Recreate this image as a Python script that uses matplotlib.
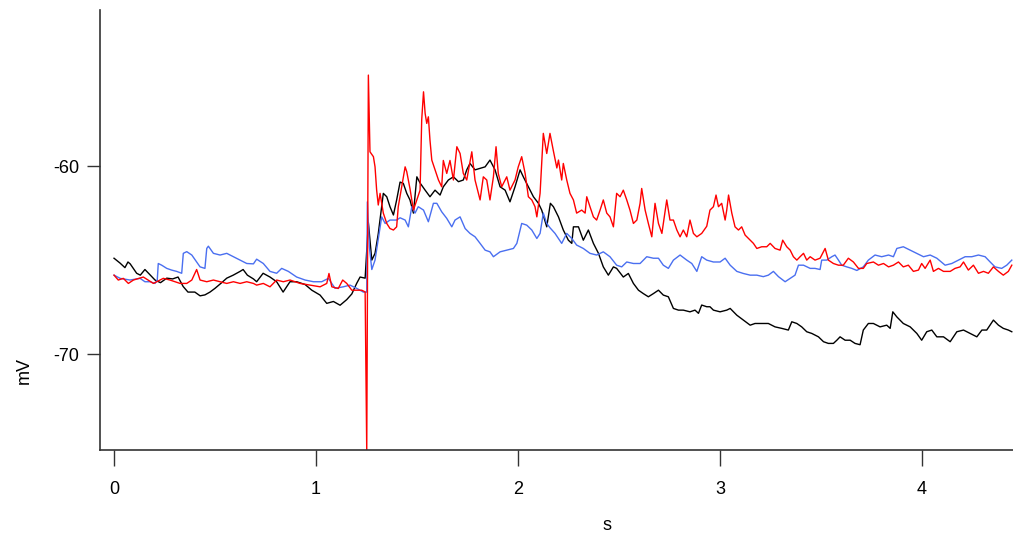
import matplotlib
matplotlib.use("Agg")
import matplotlib.pyplot as plt

plt.rcParams['font.family'] = ['Liberation Sans', 'DejaVu Sans']

# Black trace (s, mV)
black_t = [0.000, 0.030, 0.054, 0.069, 0.080, 0.112, 0.130, 0.153, 0.180, 0.203,
           0.230, 0.261, 0.290, 0.317, 0.342, 0.366, 0.400, 0.426, 0.450, 0.475,
           0.500, 0.533, 0.558, 0.590, 0.624, 0.639, 0.660, 0.690, 0.706, 0.738,
           0.772, 0.805, 0.837, 0.871, 0.904, 0.946, 0.979, 1.020, 1.053, 1.086,
           1.119, 1.152, 1.177, 1.201, 1.218, 1.243, 1.251, 1.259, 1.276, 1.292,
           1.308, 1.325, 1.333, 1.350, 1.366, 1.383, 1.399, 1.416, 1.432, 1.449,
           1.465, 1.482, 1.499, 1.515, 1.540, 1.564, 1.589, 1.614, 1.630, 1.655,
           1.680, 1.705, 1.729, 1.746, 1.762, 1.787, 1.812, 1.837, 1.861, 1.886,
           1.911, 1.936, 1.960, 1.985, 2.010, 2.026, 2.051, 2.076, 2.101, 2.117,
           2.142, 2.160, 2.175, 2.200, 2.224, 2.249, 2.266, 2.274, 2.299, 2.323,
           2.348, 2.373, 2.398, 2.422, 2.447, 2.472, 2.488, 2.521, 2.546, 2.571,
           2.596, 2.620, 2.645, 2.670, 2.695, 2.719, 2.744, 2.769, 2.794, 2.818,
           2.851, 2.876, 2.893, 2.909, 2.934, 2.950, 2.967, 3.000, 3.033, 3.050,
           3.083, 3.115, 3.149, 3.173, 3.206, 3.239, 3.272, 3.305, 3.338, 3.355,
           3.380, 3.404, 3.429, 3.454, 3.487, 3.512, 3.536, 3.561, 3.578, 3.594,
           3.619, 3.644, 3.668, 3.693, 3.709, 3.734, 3.759, 3.792, 3.825, 3.842,
           3.855, 3.875, 3.907, 3.941, 3.974, 3.998, 4.023, 4.048, 4.073, 4.106,
           4.139, 4.172, 4.205, 4.238, 4.271, 4.296, 4.320, 4.353, 4.378, 4.402,
           4.427, 4.444]
black_mv = [-64.90, -65.16, -65.40, -65.10, -65.20, -65.70, -65.80, -65.50, -65.80, -66.06,
            -66.20, -65.96, -66.00, -65.90, -66.40, -66.70, -66.70, -66.90, -66.85, -66.70,
            -66.50, -66.20, -65.96, -65.80, -65.60, -65.50, -65.80, -66.00, -66.15, -65.70,
            -65.90, -66.15, -66.70, -66.15, -66.15, -66.30, -66.60, -66.86, -67.30, -67.20,
            -67.40, -67.10, -66.80, -66.24, -65.90, -65.96, -64.50, -63.00, -65.00, -64.64,
            -63.60, -62.16, -61.45, -61.63, -62.16, -62.60, -61.80, -60.85, -60.92, -61.45,
            -61.80, -62.50, -60.57, -60.90, -61.28, -61.63, -61.28, -61.54, -61.10, -60.74,
            -60.57, -60.83, -60.74, -60.20, -59.86, -60.20, -60.12, -60.04, -59.68, -60.20,
            -61.10, -61.28, -61.90, -61.10, -60.20, -60.57, -61.10, -61.63, -61.98, -62.34,
            -63.23, -61.98, -62.16, -62.70, -63.40, -63.94, -64.11, -63.23, -63.23, -63.94,
            -63.40, -64.11, -64.64, -65.36, -65.80, -65.36, -65.44, -65.90, -65.71, -66.24,
            -66.60, -66.78, -66.95, -66.78, -66.60, -66.86, -66.95, -67.57, -67.66, -67.66,
            -67.75, -67.66, -67.83, -67.39, -67.48, -67.48, -67.66, -67.75, -67.66, -67.57,
            -67.93, -68.19, -68.46, -68.37, -68.37, -68.37, -68.55, -68.63, -68.72, -68.28,
            -68.37, -68.55, -68.81, -68.90, -69.08, -69.34, -69.43, -69.43, -69.26, -69.08,
            -69.26, -69.26, -69.43, -69.50, -68.72, -68.37, -68.37, -68.55, -68.46, -68.63,
            -67.75, -68.02, -68.37, -68.55, -68.90, -69.26, -68.81, -68.72, -69.08, -69.08,
            -69.34, -68.81, -68.72, -68.90, -69.08, -68.72, -68.72, -68.19, -68.46, -68.63,
            -68.72, -68.81]

# Blue trace
blue_t = [0.000, 0.030, 0.079, 0.129, 0.153, 0.178, 0.203, 0.214, 0.219, 0.236,
          0.261, 0.285, 0.310, 0.335, 0.343, 0.360, 0.385, 0.409, 0.426, 0.450,
          0.459, 0.467, 0.492, 0.525, 0.558, 0.591, 0.624, 0.657, 0.690, 0.706,
          0.739, 0.772, 0.805, 0.830, 0.863, 0.904, 0.946, 0.987, 1.028, 1.061,
          1.094, 1.135, 1.168, 1.201, 1.234, 1.251, 1.254, 1.264, 1.276, 1.292,
          1.308, 1.325, 1.342, 1.366, 1.399, 1.416, 1.441, 1.457, 1.474, 1.490,
          1.506, 1.532, 1.556, 1.581, 1.598, 1.622, 1.647, 1.672, 1.688, 1.713,
          1.738, 1.762, 1.787, 1.812, 1.837, 1.861, 1.878, 1.911, 1.944, 1.977,
          1.994, 2.018, 2.043, 2.068, 2.093, 2.109, 2.125, 2.142, 2.158, 2.183,
          2.216, 2.241, 2.266, 2.290, 2.323, 2.356, 2.389, 2.422, 2.455, 2.488,
          2.513, 2.538, 2.571, 2.604, 2.637, 2.670, 2.695, 2.719, 2.744, 2.769,
          2.802, 2.835, 2.860, 2.885, 2.909, 2.934, 2.967, 3.000, 3.025, 3.050,
          3.083, 3.115, 3.149, 3.182, 3.214, 3.239, 3.264, 3.289, 3.322, 3.347,
          3.371, 3.388, 3.413, 3.446, 3.470, 3.495, 3.503, 3.528, 3.553, 3.569,
          3.586, 3.602, 3.627, 3.652, 3.677, 3.709, 3.734, 3.767, 3.800, 3.834,
          3.858, 3.875, 3.907, 3.941, 3.974, 4.007, 4.040, 4.073, 4.114, 4.147,
          4.180, 4.213, 4.246, 4.279, 4.312, 4.337, 4.361, 4.394, 4.419, 4.444]
blue_mv = [-65.80, -65.97, -66.06, -65.97, -66.15, -66.15, -66.24, -66.06, -65.18, -65.27,
           -65.44, -65.53, -65.60, -65.70, -64.64, -64.55, -64.73, -65.10, -65.36, -65.44,
           -64.38, -64.26, -64.64, -64.73, -64.64, -64.82, -65.00, -65.18, -65.20, -64.95,
           -65.18, -65.60, -65.70, -65.44, -65.60, -65.90, -66.06, -66.15, -66.15, -65.97,
           -66.50, -66.42, -66.33, -66.50, -66.70, -66.70, -61.90, -64.30, -65.50, -65.00,
           -63.90, -62.70, -63.05, -62.87, -62.87, -62.75, -62.87, -63.23, -62.16, -62.50,
           -62.16, -62.34, -62.96, -61.98, -61.98, -62.43, -62.78, -63.23, -62.87, -62.70,
           -63.32, -63.58, -63.76, -64.11, -64.47, -64.56, -64.82, -64.56, -64.47, -64.38,
           -64.11, -63.05, -63.14, -63.40, -63.85, -63.58, -62.50, -63.05, -63.28, -63.58,
           -64.11, -63.58, -63.85, -64.20, -64.38, -64.64, -64.73, -64.56, -64.82, -65.27,
           -65.36, -65.10, -65.18, -65.18, -64.82, -64.90, -64.90, -65.27, -65.44, -65.00,
           -64.73, -65.00, -65.18, -65.60, -64.82, -65.00, -65.10, -65.10, -64.90, -65.27,
           -65.60, -65.71, -65.80, -65.80, -65.88, -65.80, -65.60, -65.88, -66.15, -65.97,
           -65.80, -65.27, -65.27, -65.44, -65.44, -65.50, -65.00, -65.00, -64.82, -64.73,
           -65.00, -65.27, -65.36, -65.44, -65.55, -65.36, -65.00, -64.73, -64.82, -64.73,
           -64.82, -64.38, -64.29, -64.47, -64.64, -64.82, -64.73, -64.90, -65.27, -65.18,
           -65.00, -64.82, -64.82, -64.73, -64.82, -65.10, -65.36, -65.44, -65.27, -65.00]

# Red trace
red_t = [0.000, 0.021, 0.046, 0.071, 0.096, 0.145, 0.195, 0.244, 0.277, 0.327,
         0.360, 0.385, 0.409, 0.426, 0.459, 0.492, 0.525, 0.558, 0.591, 0.624,
         0.657, 0.690, 0.706, 0.739, 0.772, 0.805, 0.838, 0.871, 0.921, 0.970,
         1.020, 1.053, 1.064, 1.078, 1.110, 1.132, 1.152, 1.177, 1.201, 1.226,
         1.243, 1.251, 1.259, 1.267, 1.284, 1.292, 1.300, 1.308, 1.317, 1.325,
         1.333, 1.350, 1.366, 1.383, 1.399, 1.407, 1.424, 1.441, 1.449, 1.465,
         1.482, 1.499, 1.515, 1.523, 1.532, 1.540, 1.548, 1.556, 1.564, 1.573,
         1.589, 1.606, 1.622, 1.630, 1.647, 1.663, 1.680, 1.697, 1.713, 1.729,
         1.746, 1.771, 1.787, 1.812, 1.828, 1.845, 1.861, 1.878, 1.891, 1.902,
         1.919, 1.944, 1.960, 1.985, 2.001, 2.018, 2.035, 2.051, 2.068, 2.084,
         2.093, 2.109, 2.125, 2.142, 2.158, 2.175, 2.192, 2.200, 2.216, 2.224,
         2.241, 2.257, 2.274, 2.290, 2.315, 2.332, 2.340, 2.356, 2.373, 2.389,
         2.406, 2.422, 2.439, 2.455, 2.472, 2.488, 2.505, 2.521, 2.538, 2.554,
         2.571, 2.588, 2.604, 2.612, 2.629, 2.645, 2.662, 2.678, 2.695, 2.712,
         2.736, 2.752, 2.769, 2.786, 2.802, 2.818, 2.835, 2.851, 2.868, 2.885,
         2.909, 2.934, 2.950, 2.967, 2.980, 2.992, 3.008, 3.025, 3.033, 3.042,
         3.058, 3.074, 3.091, 3.107, 3.124, 3.149, 3.165, 3.182, 3.206, 3.231,
         3.248, 3.272, 3.297, 3.310, 3.330, 3.347, 3.363, 3.380, 3.396, 3.413,
         3.429, 3.446, 3.470, 3.495, 3.520, 3.536, 3.561, 3.586, 3.610, 3.635,
         3.660, 3.685, 3.709, 3.726, 3.759, 3.784, 3.809, 3.834, 3.858, 3.883,
         3.907, 3.932, 3.957, 3.982, 3.998, 4.015, 4.040, 4.056, 4.081, 4.106,
         4.139, 4.163, 4.188, 4.205, 4.229, 4.254, 4.279, 4.304, 4.328, 4.353,
         4.378, 4.402, 4.427, 4.444]
red_mv = [-65.80, -66.06, -65.97, -66.24, -66.06, -65.90, -66.24, -65.97, -66.06, -66.24,
          -66.24, -66.06, -65.50, -66.06, -66.15, -66.06, -66.15, -66.24, -66.15, -66.24,
          -66.15, -66.24, -66.33, -66.24, -66.42, -66.06, -66.15, -66.06, -66.24, -66.33,
          -66.42, -66.24, -65.71, -66.42, -66.51, -66.06, -66.24, -66.60, -66.60, -66.60,
          -66.69, -75.20, -55.16, -59.24, -59.50, -60.04, -61.28, -62.07, -61.45, -61.98,
          -62.50, -63.05, -63.32, -63.40, -63.23, -62.16, -61.10, -60.04, -60.30, -61.20,
          -62.34, -61.80, -61.28, -57.55, -56.05, -57.20, -57.73, -57.38, -58.62, -59.68,
          -60.20, -60.74, -61.10, -59.70, -60.39, -59.70, -60.74, -58.97, -59.33, -60.39,
          -60.74, -59.24, -60.74, -61.80, -60.57, -60.74, -61.80, -60.57, -58.97, -60.39,
          -61.10, -60.57, -61.28, -60.74, -60.04, -59.50, -60.39, -61.63, -61.80, -62.16,
          -62.70, -61.45, -58.26, -59.33, -58.26, -59.20, -60.10, -59.68, -60.74, -59.86,
          -60.74, -61.45, -61.80, -62.50, -62.34, -62.50, -61.63, -62.16, -62.70, -62.87,
          -62.34, -61.80, -62.50, -62.70, -63.23, -61.45, -61.63, -61.28, -61.80, -62.34,
          -63.05, -62.87, -61.98, -61.19, -62.34, -63.05, -63.76, -61.98, -63.05, -63.58,
          -61.80, -62.87, -62.87, -63.40, -63.76, -63.40, -63.76, -62.87, -63.58, -63.76,
          -63.58, -63.20, -62.34, -62.16, -61.54, -62.16, -61.98, -62.87, -62.34, -61.54,
          -62.50, -63.23, -63.40, -63.23, -63.67, -63.94, -64.11, -64.38, -64.29, -64.29,
          -64.11, -64.38, -64.47, -63.94, -64.29, -64.47, -64.82, -65.00, -64.82, -64.64,
          -65.00, -64.82, -65.00, -64.90, -64.38, -65.00, -65.18, -65.27, -65.27, -64.90,
          -65.10, -65.44, -65.44, -65.18, -65.10, -65.27, -65.18, -65.36, -65.27, -65.10,
          -65.36, -65.27, -65.60, -65.53, -65.18, -65.44, -65.00, -65.60, -65.44, -65.60,
          -65.60, -65.44, -65.36, -65.10, -65.53, -65.27, -65.70, -65.60, -65.70, -65.36,
          -65.60, -65.80, -65.60, -65.27]

xticks = [0, 1, 2, 3, 4]
yticks = [-60, -70]

fig = plt.figure(figsize=(10.13, 5.36), dpi=100)
ax = fig.add_axes([0.0992, 0.1604, 0.9008, 0.8209])

ax.plot(black_t, black_mv, color="black", lw=1.0)
ax.plot(blue_t, blue_mv, color="#4a6ff0", lw=1.0)
ax.plot(red_t, red_mv, color="#ff0000", lw=1.0)

ax.set_xlim(-0.067, 4.45)
ax.set_ylim(-75.1, -51.7)
ax.set_xticks(xticks)
ax.set_yticks(yticks)
ax.set_yticklabels([str(v) for v in yticks])

for side in ["top", "right"]:
    ax.spines[side].set_visible(False)
for side in ["left", "bottom"]:
    ax.spines[side].set_color("#333333")
    ax.spines[side].set_linewidth(1.2)

ax.tick_params(axis="x", direction="out", length=11.5, width=1.0, color="#333333",
               labelsize=13, pad=10.5)
ax.tick_params(axis="y", direction="out", length=9.4, width=1.0, color="#333333",
               labelsize=13, pad=5.8)

# Axis titles
fig.text(607 / 1013, 1 - 525 / 536, "s", ha="center", va="center", fontsize=13)
fig.text(24 / 1013, 1 - 370 / 536, "mV", ha="center", va="center", rotation=90,
         fontsize=13)

fig.savefig("out.png", dpi=100)
